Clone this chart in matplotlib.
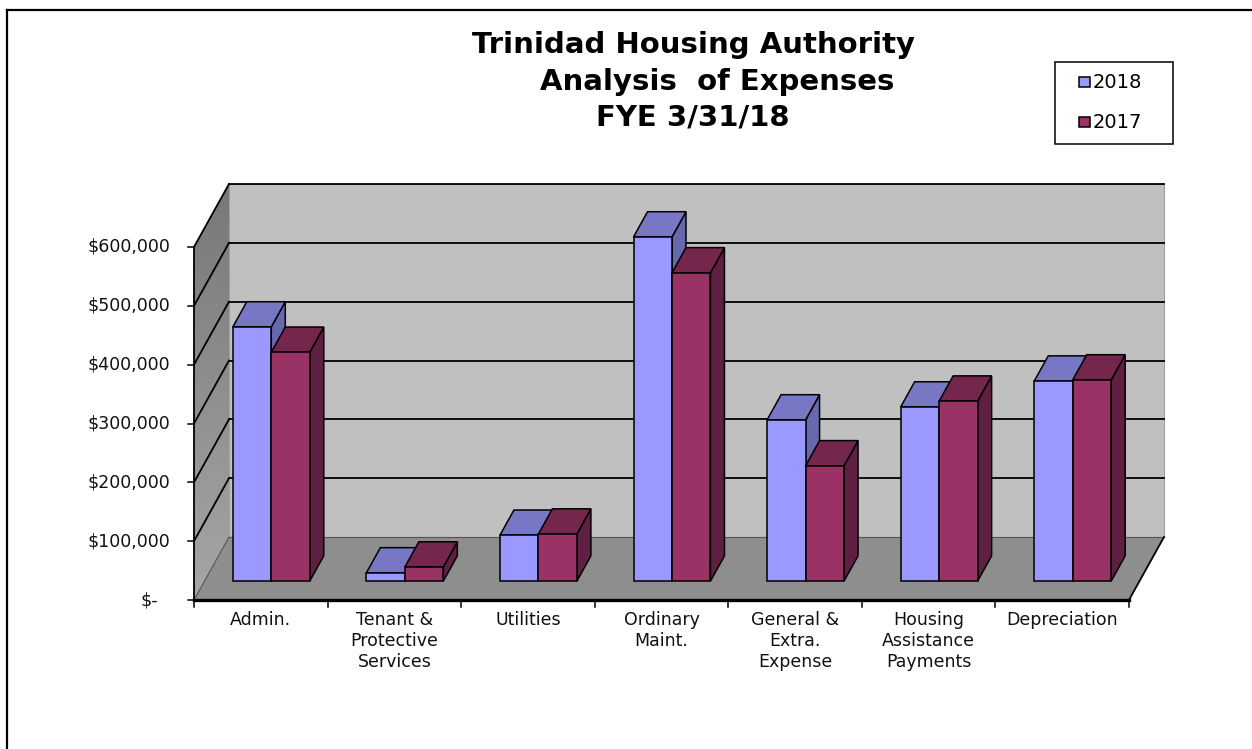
import matplotlib
matplotlib.use("Agg")
import matplotlib.pyplot as plt
import matplotlib.transforms as mtransforms
from matplotlib.colors import LinearSegmentedColormap
from matplotlib.patches import Polygon, Rectangle
from matplotlib.lines import Line2D
import numpy as np

# Chart data
categories = ["Admin.", "Tenant &\nProtective\nServices", "Utilities", "Ordinary\nMaint.",
              "General &\nExtra.\nExpense", "Housing\nAssistance\nPayments", "Depreciation"]
fy2018 = [432000, 14000, 78000, 585000, 274000, 296000, 340000]
fy2017 = [389000, 24000, 80000, 524000, 196000, 306000, 342000]
series_names = ["2018", "2017"]
y_ticks = [0, 100000, 200000, 300000, 400000, 500000, 600000]
y_tick_labels = ["$-", "$100,000", "$200,000", "$300,000", "$400,000", "$500,000", "$600,000"]

W, H = 1252, 749
fig = plt.figure(figsize=(W / 100, H / 100), dpi=100)

def fx(px):
    return px / W

def fy(py):
    return 1 - py / H

# axes: front floor edge spans the categories, value 0..600k on the front plane
ax = fig.add_axes([fx(194), fy(600), (1129 - 194) / W, (600 - 247) / H])
ax.set_xlim(-0.5, 6.5)
ax.set_ylim(0, 600000)
ax.axis("off")

# depth offsets (category units, value units) for depth fraction 1
DX = 35 / 133.6
DY = 63 / (353 / 600000)

def P(x, v, d):
    return (x + d * DX, v + d * DY)

x_lo, x_hi = -0.5, 6.5
v_top = y_ticks[-1]

# back wall
back = Polygon([P(x_lo, 0, 1), P(x_hi, 0, 1), P(x_hi, v_top, 1), P(x_lo, v_top, 1)],
               closed=True, facecolor="#c0c0c0", edgecolor="#a0a0a0", lw=0.8, clip_on=False, zorder=1)
ax.add_patch(back)

# side wall with a gradient
side = Polygon([P(x_lo, 0, 0), P(x_lo, 0, 1), P(x_lo, v_top, 1), P(x_lo, v_top, 0)],
               closed=True, facecolor="none", edgecolor="none", clip_on=False, zorder=1)
ax.add_patch(side)
grad = np.linspace(0, 1, 100).reshape(-1, 1)
cmap = LinearSegmentedColormap.from_list("wall", ["#a6a6a6", "#787878"])
im = ax.imshow(grad, cmap=cmap, extent=(x_lo, x_lo + DX, 0, v_top + DY),
               origin="lower", aspect="auto", zorder=1)
im.set_clip_box(fig.bbox)
im.set_clip_path(side)
ax.set_xlim(-0.5, 6.5)
ax.set_ylim(0, 600000)

# floor
floor = Polygon([P(x_lo, 0, 0), P(x_hi, 0, 0), P(x_hi, 0, 1), P(x_lo, 0, 1)],
                closed=True, facecolor="#8e8e8e", edgecolor="none", clip_on=False, zorder=1)
ax.add_patch(floor)

# gridlines on back and side walls
for v in y_ticks:
    lw = 0.8 if v == 0 else 1.3
    col = "#555555" if v == 0 else "black"
    bx0, by0 = P(x_lo, v, 1)
    bx1, by1 = P(x_hi, v, 1)
    ax.add_line(Line2D([bx0, bx1], [by0, by1], color=col, lw=lw, clip_on=False, zorder=2))
    sx0, sy0 = P(x_lo, v, 0)
    ax.add_line(Line2D([sx0, bx0], [sy0, by0], color=col, lw=lw, clip_on=False, zorder=2))

# floor right edge
rx0, ry0 = P(x_hi, 0, 0)
rx1, ry1 = P(x_hi, 0, 1)
ax.add_line(Line2D([rx0, rx1], [ry0, ry1], color="black", lw=1.3, clip_on=False, zorder=2))

# bars
bar_w = 0.288
d0, d1 = 0.3, 0.7
colors = {
    "2018": ("#9999ff", "#7777c6", "#6868ae"),
    "2017": ("#993366", "#74264d", "#5f1f42"),
}
for i in range(len(categories)):
    for j, (name, vals) in enumerate(zip(series_names, [fy2018, fy2017])):
        v = vals[i]
        xl = i - bar_w + j * bar_w
        xr = xl + bar_w
        front_c, top_c, side_c = colors[name]
        z = 3 + i * 2 + j
        faces = [
            ([P(xr, 0, d0), P(xr, 0, d1), P(xr, v, d1), P(xr, v, d0)], side_c),
            ([P(xl, v, d0), P(xr, v, d0), P(xr, v, d1), P(xl, v, d1)], top_c),
            ([P(xl, 0, d0), P(xr, 0, d0), P(xr, v, d0), P(xl, v, d0)], front_c),
        ]
        for pts, c in faces:
            ax.add_patch(Polygon(pts, closed=True, facecolor=c, edgecolor="black",
                                 lw=1.1, joinstyle="miter", clip_on=False, zorder=z))

# front axes lines and ticks
ax.add_line(Line2D([x_lo, x_lo], [0, v_top], color="black", lw=1.3, clip_on=False, zorder=30))
ax.add_line(Line2D([x_lo, x_hi], [0, 0], color="black", lw=2.4, clip_on=False, zorder=30))

px_off = lambda dx, dy: mtransforms.offset_copy(ax.transData, fig=fig, x=dx, y=dy, units="dots")
tick_v = 353 / 600000
for v, lab in zip(y_ticks, y_tick_labels):
    ax.add_line(Line2D([x_lo - 6 / 133.6, x_lo], [v, v], color="black", lw=1.1, clip_on=False, zorder=30))
    off = -36 if v == 0 else -24
    ax.text(x_lo, v, lab, transform=px_off(off, 0), ha="right", va="center", fontsize=12.5,
            color="#111111")

for k in range(len(categories) + 1):
    xt = x_lo + k
    ax.add_line(Line2D([xt, xt], [0, -7 / tick_v], color="black", lw=1.1, clip_on=False, zorder=30))

for i, lab in enumerate(categories):
    ax.text(i, 0, lab, transform=px_off(0, -11), ha="center", va="top", fontsize=12.5,
            linespacing=1.2, color="#111111")

# title
fig.text(fx(694), fy(45), "Trinidad Housing Authority", ha="center", va="center",
         fontsize=21, fontweight="bold")
fig.text(fx(717), fy(82), "Analysis  of Expenses", ha="center", va="center",
         fontsize=21, fontweight="bold")
fig.text(fx(693), fy(118), "FYE 3/31/18", ha="center", va="center",
         fontsize=21, fontweight="bold")

# legend
fig.add_artist(Rectangle((fx(1055), fy(144)), (1173 - 1055) / W, (144 - 62) / H,
                         transform=fig.transFigure, facecolor="white", edgecolor="black", lw=1.1))
for name, yc in zip(series_names, [82, 122]):
    fig.add_artist(Rectangle((fx(1079), fy(yc + 5)), 11 / W, 10 / H, transform=fig.transFigure,
                             facecolor=colors[name][0], edgecolor="black", lw=1.1))
    fig.text(fx(1093), fy(yc), name, ha="left", va="center", fontsize=14)

# chart border (top and left edges visible)
fig.add_artist(Line2D([fx(7), fx(1252)], [fy(9.5), fy(9.5)], transform=fig.transFigure, color="black", lw=1.6))
fig.add_artist(Line2D([fx(7), fx(7)], [fy(9.5), fy(749)], transform=fig.transFigure, color="black", lw=1.6))

fig.savefig("out.png", dpi=100, facecolor="white")
